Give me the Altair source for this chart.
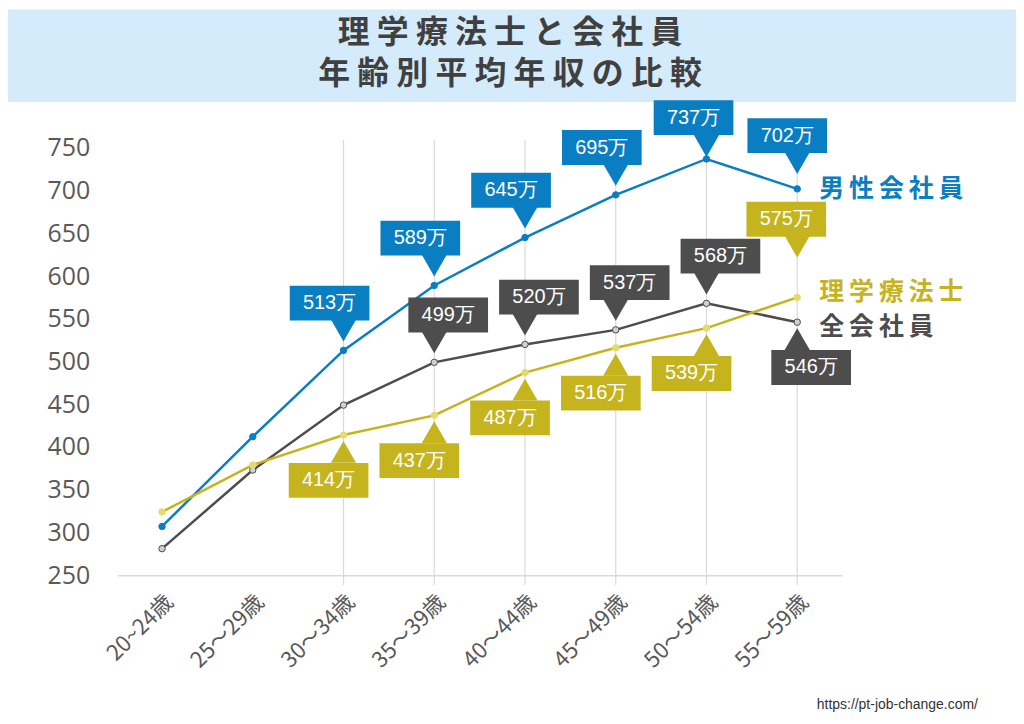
import altair as alt
import pandas as pd

# ---- data ----
categories = ["20~24歳", "25～29歳", "30～34歳", "35～39歳", "40～44歳", "45～49歳", "50～54歳", "55～59歳"]
male_employee = [307, 412, 513, 589, 645, 695, 737, 702]      # 男性会社員
all_employee = [281, 373, 449, 499, 520, 537, 568, 546]       # 全会社員
physio = [324, 379, 414, 437, 487, 516, 539, 575]             # 理学療法士
series_names = ["男性会社員", "全会社員", "理学療法士"]
y_ticks = [250, 300, 350, 400, 450, 500, 550, 600, 650, 700, 750]
title_lines = ["理学療法士と会社員", "年齢別平均年収の比較"]
source_text = "https://pt-job-change.com/"
label_start = {"男性会社員": 2, "全会社員": 3, "理学療法士": 2}  # first age group with a callout

BLUE = "#0A7EC2"
GRAY = "#4D4D4D"
YELLOW = "#C5B41E"
colors = {"男性会社員": BLUE, "全会社員": GRAY, "理学療法士": YELLOW}
point_fill = {"男性会社員": BLUE, "全会社員": "#C9D1D9", "理学療法士": "#E6DA6E"}

values = {"男性会社員": male_employee, "全会社員": all_employee, "理学療法士": physio}
n = len(categories)


def placement(s, i):
    if s == "男性会社員":
        if i == 6:
            return "top", -13
        if i == n - 1:
            return "above2", -10
        return "above", -14
    if s == "全会社員":
        return ("below", 14) if i == n - 1 else ("above", 14)
    return ("high", -11) if i == n - 1 else ("below", -15)


rows = []
for s in series_names:
    for i, v in enumerate(values[s]):
        pos, dx = placement(s, i)
        rows.append({
            "series": s, "idx": i, "value": v, "lab": f"{v}万",
            "show": i >= label_start[s], "grp": f"{pos}|{dx}",
        })
df = pd.DataFrame(rows)

W, H = 727, 429
xscale = alt.Scale(domain=[-0.49, n - 1 + 0.49], nice=False, zero=False)
yscale = alt.Scale(domain=[250, 750], nice=False, zero=False)
label_array = "[" + ",".join(f"'{c}'" for c in categories) + "]"
xaxis = alt.Axis(values=list(range(n)), labelExpr=f"{label_array}[datum.value]", title=None,
                 ticks=False, grid=False, domain=True, domainColor="#D9D9D9", domainWidth=1.5,
                 labelAngle=-45, labelFont="Noto Sans CJK JP", labelFontSize=22,
                 labelColor="#595959", labelPadding=16)
yaxis = alt.Axis(values=y_ticks, title=None, ticks=False, grid=False, domain=False,
                 labelFont="Open Sans", labelFontSize=25, labelColor="#595959", labelPadding=28)

X = alt.X("idx:Q", scale=xscale, axis=xaxis)
Y = alt.Y("value:Q", scale=yscale, axis=yaxis)
color = alt.Color("series:N", scale=alt.Scale(domain=list(colors), range=list(colors.values())), legend=None)
fill = alt.Fill("series:N", scale=alt.Scale(domain=list(point_fill), range=list(point_fill.values())), legend=None)

base = alt.Chart(df)

dummy = alt.Chart(pd.DataFrame({"a": [0]}))
banner = dummy.mark_rect(color="#D3EBFB").encode(
    x=alt.value(-110), x2=alt.value(W + 180), y=alt.value(-139), y2=alt.value(-46))
titles = [
    dummy.mark_text(fontSize=32, fontWeight="bold", font="Noto Sans CJK JP", color="#404040",
                    align="center", baseline="middle").encode(
        x=alt.value(394), y=alt.value(y), text=alt.value(" ".join(t)))
    for t, y in zip(title_lines, [-115, -74])
]

grid_df = pd.DataFrame({"idx": list(range(2, n))})
grid = alt.Chart(grid_df).mark_rule(color="#DADADA", strokeWidth=1.2).encode(
    x=X, y=alt.value(-8), y2=alt.value(H + 10))

lines = base.mark_line(strokeWidth=2.5).encode(x=X, y=Y, color=color, detail="series:N")
points = base.mark_point(filled=False, size=42, strokeWidth=1).encode(
    x=X, y=Y, fill=fill,
    stroke=alt.Stroke("series:N", scale=alt.Scale(domain=list(colors), range=[BLUE, GRAY, "#E6DA6E"]), legend=None),
    opacity=alt.value(1))

# callout geometry (pixel offsets relative to the data point)
geom = {
    "above": {"box": (-65, -30), "tri": ("triangle-down", -20)},
    "above2": {"box": (-71, -36), "tri": ("triangle-down", -26)},
    "top": {"box": (-59, -24), "tri": ("triangle-down", -13)},
    "below": {"box": (28, 63), "tri": ("triangle-up", 17)},
    "high": {"box": (-96, -61), "tri": ("triangle-down", -51)},
}
callouts = []
for g in sorted(df.loc[df["show"], "grp"].unique()):
    pos, dx = g.split("|")
    dx = int(dx)
    top, bottom = geom[pos]["box"]
    shape, ty = geom[pos]["tri"]
    sub = base.transform_filter(alt.datum.show).transform_filter(alt.datum.grp == g)
    callouts.append(sub.mark_point(shape=shape, filled=True, size=640, yOffset=ty, opacity=1).encode(
        x=X, y=Y, color=color))
    callouts.append(sub.mark_rect(xOffset=-40 + dx, x2Offset=40 + dx, yOffset=top, y2Offset=bottom).encode(
        x=X, x2=alt.X2("idx:Q"), y=Y, y2=alt.Y2("value:Q"), color=color))
    callouts.append(sub.mark_text(dx=dx, dy=(top + bottom) / 2, color="white", font="Liberation Sans",
                                  fontSize=20, baseline="middle", align="center").encode(
        x=X, y=Y, text="lab:N"))

sp = "\u2009"
name_dy = {"男性会社員": 0, "全会社員": 5, "理学療法士": -5}
names = []
for s in series_names:
    names.append(base.transform_filter(alt.datum.idx == n - 1).transform_filter(alt.datum.series == s)
                 .mark_text(align="left", baseline="middle", dx=22, dy=name_dy[s], fontSize=25,
                            fontWeight="bold", font="Noto Sans CJK JP", color=colors[s])
                 .encode(x=X, y=Y, text=alt.value(sp.join(s))))

source = dummy.mark_text(fontSize=14, font="Liberation Sans", color="#333333", align="left",
                         baseline="middle").encode(x=alt.value(702), y=alt.value(559),
                                                   text=alt.value(source_text))

chart = alt.layer(banner, *titles, grid, lines, points, *callouts, *names, source).properties(
    width=W, height=H,
    padding={"left": 110, "top": 139, "right": 175, "bottom": 140},
    autosize=alt.AutoSizeParams(type="none"),
    background="white",
).configure_view(stroke=None)

chart.save("out.html", embed_options={"renderer": "svg", "actions": False})
